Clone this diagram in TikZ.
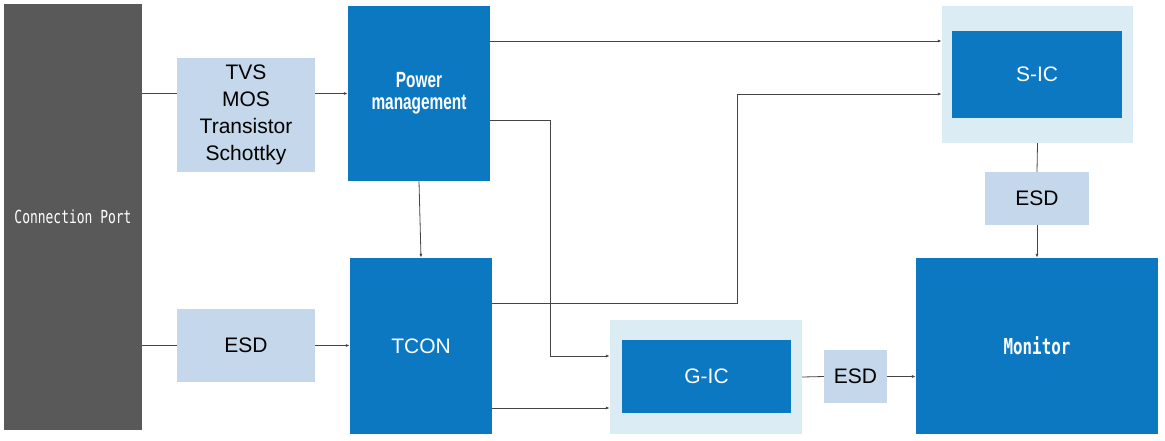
\documentclass[tikz,border=0pt]{standalone}
\usepackage{fontspec}
\setmainfont{Liberation Sans}
\newfontfamily\portfont[FakeStretch=0.72]{DejaVu Sans Mono}
\newfontfamily\pmfont[FakeStretch=0.7]{Liberation Sans}
\usetikzlibrary{arrows.meta}

\definecolor{portgray}{HTML}{595959}
\definecolor{esdblue}{HTML}{C5D7EA}
\definecolor{icblue}{HTML}{0C78C2}
\definecolor{paleblue}{HTML}{DCECF5}
\definecolor{wiregray}{HTML}{454545}

\tikzset{
  box/.style={inner sep=0pt, align=center},
  esdbox/.style={box, fill=esdblue, text=black, font=\fontsize{21}{27}\selectfont},
  icbox/.style={box, fill=icblue, text=white, font=\fontsize{21}{27}\selectfont},
  outerbox/.style={box, fill=paleblue},
  wire/.style={draw=wiregray, line width=0.8pt},
  arr/.style={wire, -{Latex[length=4pt,width=3pt]}}
}

\begin{document}
\begin{tikzpicture}[x=1pt,y=-1pt]
	% canvas of the reference
	\useasboundingbox (0,0) rectangle (1165,440);
	% left column: port and protection parts
	\node[box, fill=portgray, text=white, minimum width=138pt, minimum height=426pt,
	  font=\portfont\fontsize{18}{20}\selectfont] (port) at (73,217) {Connection Port};
	\node[esdbox, minimum width=138pt, minimum height=114pt] (tvs) at (246,115)
	  {TVS\\MOS\\Transistor\\Schottky};
	\node[esdbox, minimum width=138pt, minimum height=73pt] (esdl) at (246,345.5) {ESD};
	% middle column
	\node[icbox, minimum width=142pt, minimum height=175pt,
	  font=\pmfont\bfseries\fontsize{22}{22}\selectfont] (power) at (419,93.5) {Power\\management};
	\node[icbox, minimum width=142pt, minimum height=176pt] (tcon) at (421,346) {TCON};
	% drivers with their pale frames
	\node[outerbox, minimum width=191pt, minimum height=137pt] (sicout) at (1037.5,74.5) {};
	\node[icbox, minimum width=170pt, minimum height=87pt] (sic) at (1037,74.5) {S-IC};
	\node[outerbox, minimum width=192pt, minimum height=114pt] (gicout) at (706,377) {};
	\node[icbox, minimum width=169pt, minimum height=73pt] (gic) at (706.5,376.5) {G-IC};
	% right side
	\node[esdbox, minimum width=104pt, minimum height=53pt] (esdr) at (1037,198.5) {ESD};
	\node[esdbox, minimum width=63pt, minimum height=53pt] (esdb) at (855.5,376.5) {ESD};
	\node[icbox, minimum width=242pt, minimum height=176pt,
	  font=\portfont\bfseries\fontsize{22}{24}\selectfont] (monitor) at (1037,346) {Monitor};

	% connectors
	\draw[wire] (port.east |- power.west) -- (tvs.west |- power.west);
	\draw[arr] (tvs.east |- power.west) -- (power.west);
	\draw[wire] (port.east |- esdl.west) -- (esdl.west);
	\draw[arr] (esdl.east) -- (tcon.west |- esdl.east);
	\draw[arr] (power.south) -- (tcon.north);
	\draw[arr] (power.east |- 0,41) -- (sicout.west |- 0,41);
	\draw[arr] (power.east |- 0,120) -| (550,356) -- (gicout.west |- 0,356);
	\draw[arr] (tcon.east |- 0,303) -| (737,94) -- (sicout.west |- 0,94);
	\draw[arr] (tcon.east |- 0,408) -- (gicout.west |- 0,408);
	\draw[wire] (sicout.south) -- (esdr.north);
	\draw[arr] (esdr.south) -- (monitor.north);
	\draw[wire] (gicout.east) -- (esdb.west);
	\draw[arr] (esdb.east) -- (monitor.west |- esdb.east);
\end{tikzpicture}
\end{document}
